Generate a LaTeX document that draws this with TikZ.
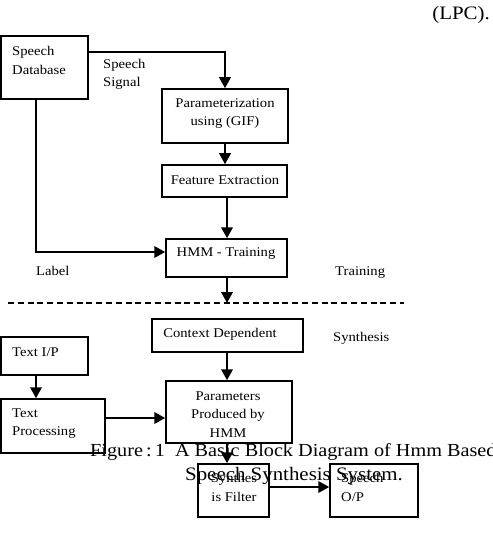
\documentclass[tikz,border=0pt]{standalone}
\usepackage{fontspec}
\setmainfont{Liberation Serif}[FakeStretch=1.1]
\usetikzlibrary{arrows.meta}
\begin{document}
\begin{tikzpicture}[x=1pt,y=-1pt,
  box/.style={draw,line width=1.5pt,rectangle,inner sep=0pt},
  txt/.style={font=\fontsize{13.3}{18.5}\selectfont,inner sep=0pt},
  captxt/.style={font=\fontsize{19}{22}\selectfont,inner sep=0pt},
  arr/.style={line width=2.1pt,-{Triangle[length=11pt,width=11.5pt]}}]
\useasboundingbox (0,0) rectangle (492,534);
% boxes
\node[box,minimum width=87pt,minimum height=63pt] (db) at (44.5,67.5) {};
\node[box,minimum width=126pt,minimum height=54pt] (param) at (225,116) {};
\node[box,minimum width=125pt,minimum height=32pt] (fe) at (224.5,181) {};
\node[box,minimum width=121pt,minimum height=38pt] (hmm) at (226.5,258) {};
\node[box,minimum width=151pt,minimum height=33pt] (ctx) at (227.5,335.5) {};
\node[box,minimum width=87pt,minimum height=38pt] (tip) at (44.5,356) {};
\node[box,minimum width=104pt,minimum height=54pt] (tp) at (53,426) {};
\node[box,minimum width=126pt,minimum height=62pt] (par) at (229,412) {};
\node[box,minimum width=71pt,minimum height=53pt] (sf) at (233.5,490.5) {};
\node[box,minimum width=88pt,minimum height=53pt] (so) at (374,490.5) {};
% box texts
\node[txt,anchor=west,align=left] (tdb) at (12,60.5) {Speech\\Database};
\node[txt,align=center] (tparam) at (225,113.5) {Parameterization\\using (GIF)};
\node[txt] (tfe) at (225,180) {Feature Extraction};
\node[txt] (thmm) at (226,254) {HMM - Training};
\node[txt] (tctx) at (220,334) {Context Dependent};
\node[txt,anchor=west] (ttip) at (12,352) {Text I/P};
\node[txt,anchor=west,align=left] (ttp) at (12,423.5) {Text\\Processing};
\node[txt,align=center] (tpar) at (228,414.5) {Parameters\\Produced by\\HMM};
\node[txt,align=center] (tsf) at (234,487.5) {Synthes\\is Filter};
\node[txt,anchor=west,align=left] (tso) at (341,487.5) {Speech\\O/P};
% free labels
\node[txt,anchor=west,align=left] (lsig) at (103,74.5) {Speech\\Signal};
\node[txt,anchor=west] (llab) at (36,271) {Label};
\node[txt,anchor=west] (ltr) at (335,273) {Training};
\node[txt,anchor=west] (lsyn) at (333,338) {Synthesis};
% connectors
\coordinate (dl) at (227,303);
\draw[arr] (db.east |- 0,52) -| (param.north);
\draw[arr] (param.south) -- (param.south |- fe.north);
\draw[arr] (fe.south -| 227,0) -- (hmm.north -| 227,0);
\draw[arr] (hmm.south -| 227,0) -- (dl);
\draw[arr] (db.south -| 36,0) -- (36,252) -- (hmm.west |- 0,252);
\draw[line width=1.4pt,dash pattern=on 6pt off 3.8pt] (8,303) -- (404,303);
\draw[arr] (ctx.south -| 227,0) -- (par.north -| 227,0);
\draw[arr] (tip.south -| 36,0) -- (tp.north -| 36,0);
\draw[arr] (tp.east |- 0,418) -- (par.west |- 0,418);
\draw[arr] (par.south -| 227,0) -- (sf.north -| 227,0);
\draw[arr] (sf.east |- 0,487) -- (so.west |- 0,487);
% caption texts
\node[captxt,anchor=west,font=\fontsize{18.4}{22}\selectfont] (cap1) at (90,452) {Figure\,:\,1\ \ A Basic Block Diagram of Hmm Based};
\node[captxt] (cap2) at (294,476) {Speech Synthesis System.};
\node[captxt,anchor=east] (lpc) at (490,15) {(LPC).};
\end{tikzpicture}
\end{document}
